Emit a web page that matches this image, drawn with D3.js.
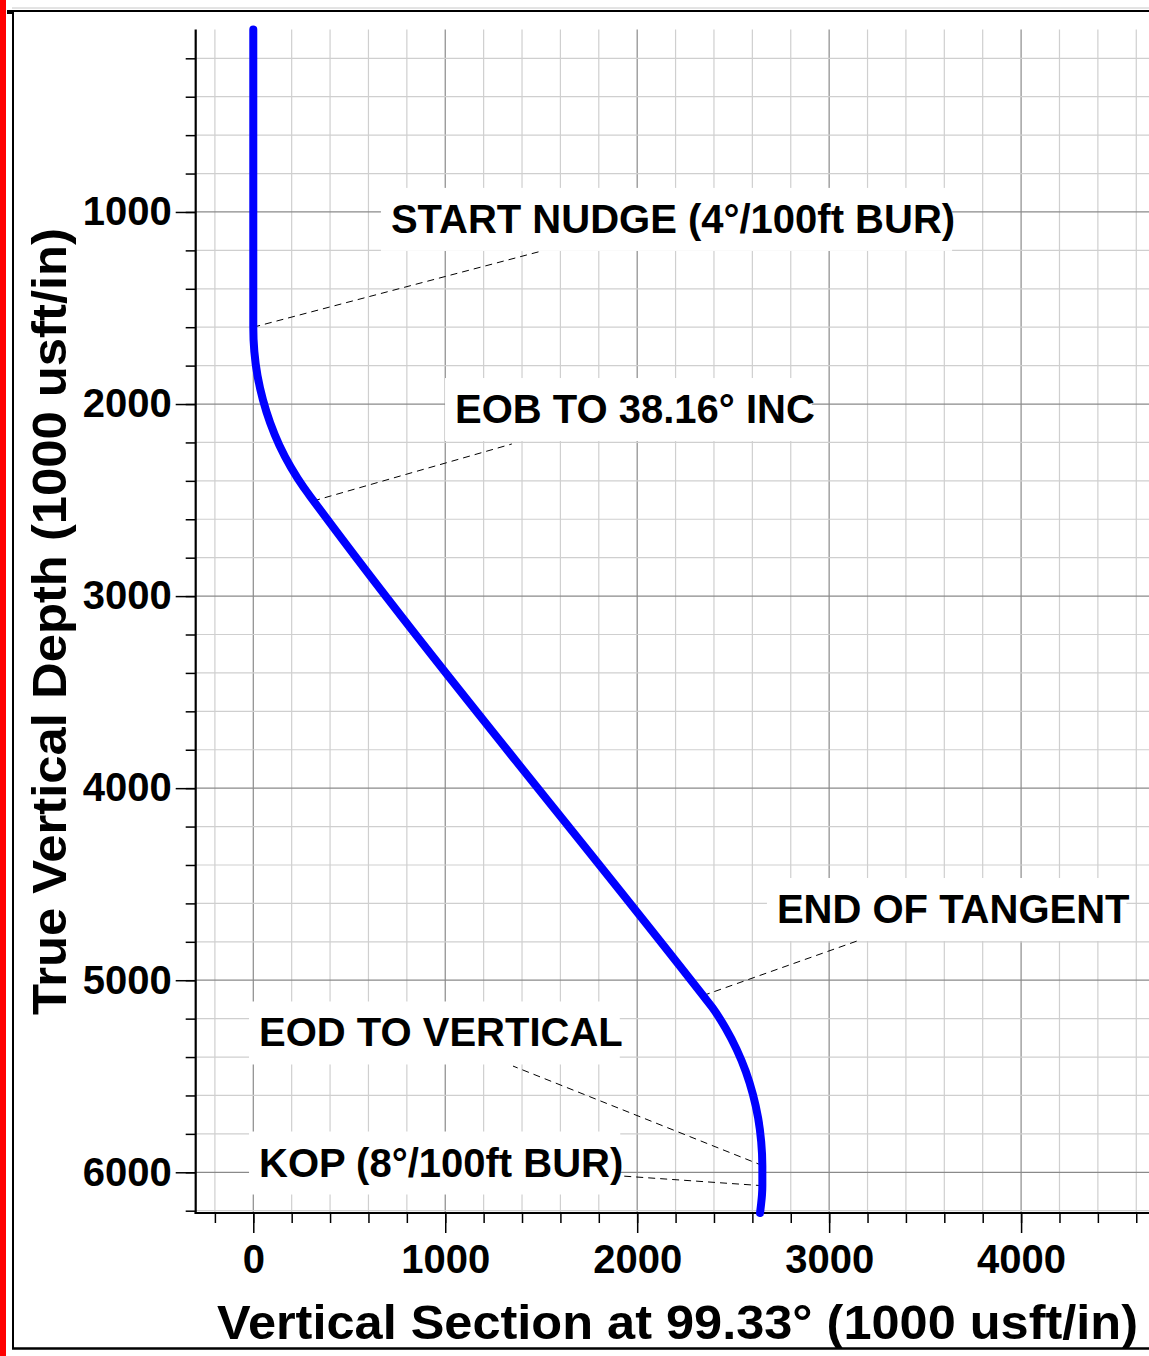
<!DOCTYPE html>
<html>
<head>
<meta charset="utf-8">
<script src="https://cdn.jsdelivr.net/npm/d3@7"></script>
<style>
  html, body { margin: 0; padding: 0; background: #fff; }
  svg { display: block; }
  text { font-family: "Liberation Sans", Arial, sans-serif; font-weight: bold; fill: #000; }
</style>
</head>
<body>
<svg id="chart" width="1149" height="1356"></svg>
<script>
// ---- Data ----
// Well path: vertical section (usft) vs true vertical depth (usft)
const pathVS  = [0, 0, 5.5, 22, 50, 88, 136, 195, 263, 311,
                 2343, 2393, 2460, 2518, 2566, 2603, 2630, 2646, 2652,
                 2652, 2650, 2645, 2640];
const pathTVD = [50, 1600, 1727, 1853, 1977, 2098, 2215, 2328, 2435, 2500,
                 5080, 5144, 5249, 5360, 5476, 5595, 5717, 5841, 5966,
                 6070, 6120, 6170, 6212];

// Annotations: label text, point on the well path, label anchor and leader end (data units)
const annText   = ["START NUDGE (4°/100ft BUR)", "EOB TO 38.16° INC", "END OF TANGENT", "EOD TO VERTICAL", "KOP (8°/100ft BUR)"];
const annPtVS   = [0, 312, 2343, 2655, 2655];
const annPtTVD  = [1600, 2505, 5080, 5966, 6070];
const annLblVS  = [717, 1051, 2728, 30, 30];
const annLblTVD = [1109, 2099, 4702, 5345, 6022];
const annEndVS  = [1504, 1347, 3145, 1353, 1900];
const annEndTVD = [1203, 2208, 4796, 5447, 6018];

// Axes
const xDomain = [-300, 4670];
const yDomain = [50, 6212];
const xMajorTicks = [0, 1000, 2000, 3000, 4000];
const yMajorTicks = [1000, 2000, 3000, 4000, 5000, 6000];
const xMinorTicks = d3.range(-200, 4700, 200);
const yMinorTicks = d3.range(200, 6300, 200);
const xTitle = "Vertical Section at 99.33° (1000 usft/in)";
const yTitle = "True Vertical Depth (1000 usft/in)";

// ---- Drawing ----
const svg = d3.select("#chart");
const L = 195.7, R = 1149.7, T = 29.5, B = 1213;
const x = d3.scaleLinear().domain(xDomain).range([L, R]);
const y = d3.scaleLinear().domain(yDomain).range([T, B]);

// frame
svg.append("rect").attr("x", 0).attr("y", 0).attr("width", 6).attr("height", 1356).attr("fill", "#ff0000");
svg.append("line").attr("x1", 12).attr("x2", 1149).attr("y1", 8).attr("y2", 8).attr("stroke", "#c8c8c8").attr("stroke-width", 1);
svg.append("line").attr("x1", 7).attr("x2", 1149).attr("y1", 11).attr("y2", 11).attr("stroke", "#000").attr("stroke-width", 2);
svg.append("rect").attr("x", 7).attr("y", 10).attr("width", 6).attr("height", 4).attr("fill", "#000");
svg.append("line").attr("x1", 13).attr("x2", 13).attr("y1", 10).attr("y2", 1349).attr("stroke", "#000").attr("stroke-width", 2);
svg.append("line").attr("x1", 12).attr("x2", 1149).attr("y1", 1348.5).attr("y2", 1348.5).attr("stroke", "#000").attr("stroke-width", 2.5);

// grid
const grid = svg.append("g");
xMinorTicks.forEach(v => {
  const major = v % 1000 === 0;
  grid.append("line").attr("x1", x(v)).attr("x2", x(v)).attr("y1", T).attr("y2", B)
    .attr("stroke", major ? "#8a8a8a" : "#cfcfcf").attr("stroke-width", 1.2);
});
yMinorTicks.forEach(v => {
  const major = v % 1000 === 0;
  grid.append("line").attr("x1", L).attr("x2", R).attr("y1", y(v)).attr("y2", y(v))
    .attr("stroke", major ? "#8a8a8a" : "#cfcfcf").attr("stroke-width", 1.2);
});

// annotation label boxes (white) + text
const annG = svg.append("g");
const labels = annText.map((t, i) => {
  return annG.append("text")
    .attr("x", x(annLblVS[i])).attr("y", y(annLblTVD[i]))
    .attr("font-size", 40).text(t);
});
labels.forEach(lbl => {
  const bb = lbl.node().getBBox();
  annG.insert("rect", "text")
    .attr("x", bb.x - 10).attr("y", bb.y - 9)
    .attr("width", bb.width + 7).attr("height", bb.height + 19)
    .attr("fill", "#fff");
});

// leader lines
annText.forEach((t, i) => {
  svg.append("line")
    .attr("x1", x(annPtVS[i])).attr("y1", y(annPtTVD[i]))
    .attr("x2", x(annEndVS[i])).attr("y2", y(annEndTVD[i]))
    .attr("stroke", "#000").attr("stroke-width", 1)
    .attr("stroke-dasharray", "7,5");
});

// axes
const yMinorAxis = d3.axisLeft(y).tickValues(yMinorTicks).tickSize(10).tickFormat("");
const yMajorAxis = d3.axisLeft(y).tickValues(yMajorTicks).tickSize(20).tickPadding(4).tickFormat(d3.format("d"));
const xMinorAxis = d3.axisBottom(x).tickValues(xMinorTicks).tickSize(10).tickFormat("");
const xMajorAxis = d3.axisBottom(x).tickValues(xMajorTicks).tickSize(20).tickPadding(12).tickFormat(d3.format("d"));

function styleAxis(g) {
  g.select(".domain").remove();
  g.selectAll(".tick line").attr("stroke", "#000").attr("stroke-width", 1.5);
  g.selectAll(".tick text").attr("font-size", 40).attr("font-family", "Liberation Sans, Arial, sans-serif").attr("font-weight", "bold");
}
svg.append("g").attr("transform", `translate(${L},0)`).call(yMinorAxis).call(styleAxis);
svg.append("g").attr("transform", `translate(${L},0)`).call(yMajorAxis).call(styleAxis);
svg.append("g").attr("transform", `translate(0,${B})`).call(xMinorAxis).call(styleAxis);
svg.append("g").attr("transform", `translate(0,${B})`).call(xMajorAxis).call(styleAxis);

svg.append("line").attr("x1", L).attr("x2", L).attr("y1", T).attr("y2", B + 1).attr("stroke", "#000").attr("stroke-width", 2.2);
svg.append("line").attr("x1", L - 1).attr("x2", 1149).attr("y1", B).attr("y2", B).attr("stroke", "#000").attr("stroke-width", 2.2);

// well path
const pathData = pathVS.map((v, i) => [v, pathTVD[i]]);
const line = d3.line().x(d => x(d[0])).y(d => y(d[1])).curve(d3.curveMonotoneY);
svg.append("path").datum(pathData)
  .attr("d", line)
  .attr("fill", "none").attr("stroke", "#0000ff").attr("stroke-width", 8)
  .attr("stroke-linecap", "round").attr("stroke-linejoin", "round");

// titles
svg.append("text").attr("x", 677.5).attr("y", 1339).attr("text-anchor", "middle")
  .attr("font-size", 49).attr("textLength", 921).attr("lengthAdjust", "spacingAndGlyphs").text(xTitle);
svg.append("text").attr("transform", "translate(66,621.5) rotate(-90)").attr("text-anchor", "middle")
  .attr("font-size", 49).attr("textLength", 787).attr("lengthAdjust", "spacingAndGlyphs").text(yTitle);
</script>
</body>
</html>
